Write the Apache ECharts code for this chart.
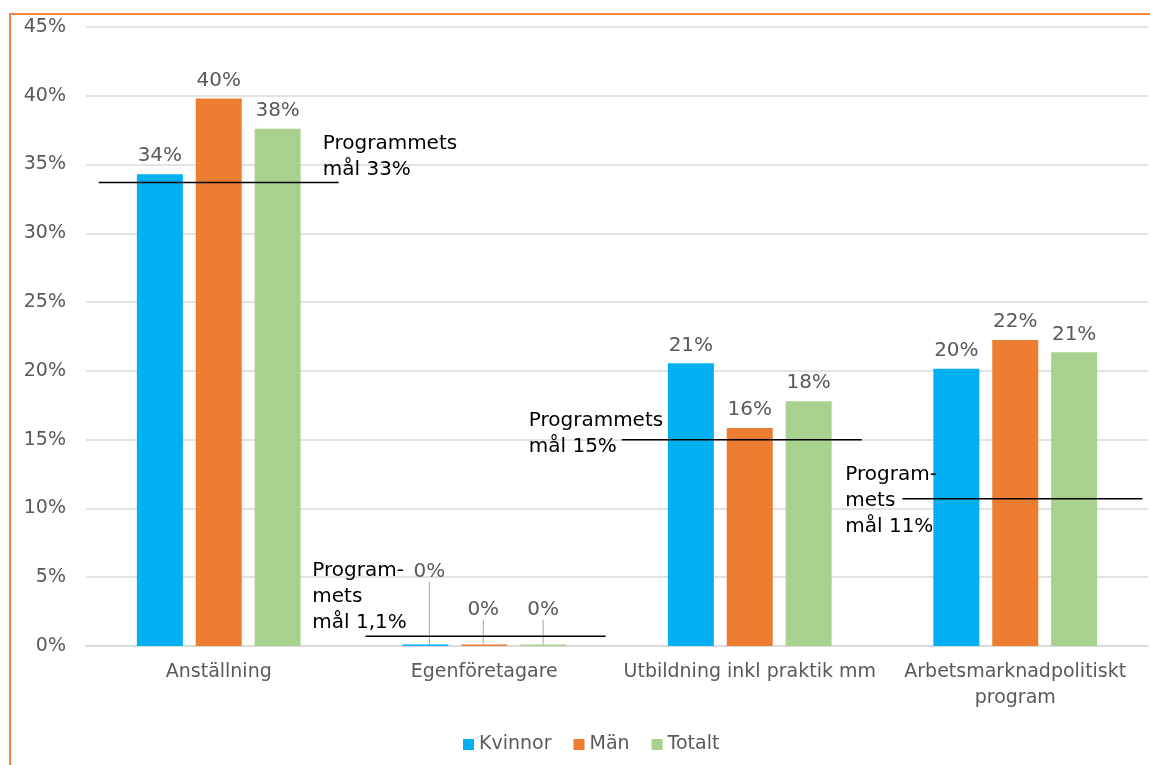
<!DOCTYPE html>
<html>
<head>
<meta charset="utf-8">
<script src="https://cdn.jsdelivr.net/npm/echarts@6/dist/echarts.min.js"></script>
<style>
  html, body { margin: 0; padding: 0; background: #fff; }
  .frame { position: absolute; left: 9px; top: 13px; width: 1200px; height: 800px;
           border-top: 2px solid #F4873B; border-left: 2px solid #F4873B; }
  #chart { position: absolute; left: 0; top: 0; width: 1150px; height: 765px; }
</style>
</head>
<body>
<div class="frame"></div>
<div id="chart"></div>
<script>
// data
const categories = ['Anställning', 'Egenföretagare', 'Utbildning inkl praktik mm', 'Arbetsmarknadpolitiskt\nprogram']
const kvinnor = [34.3, 0.1, 20.55, 20.15]
const man = [39.8, 0.1, 15.85, 22.25]
const totalt = [37.6, 0.1, 17.8, 21.35]
const goalValues = [33.7, 0.7, 15.0, 10.7]
const goalLabels = ['Programmets\nmål 33%', 'Program-\nmets\nmål 1,1%', 'Programmets\nmål 15%', 'Program-\nmets\nmål 11%']

// layout of the goal lines (fraction of band, px offsets for the texts)
const goalShift = [0, 0.005, -0.03, 0.027]
const goalHalf = 0.452
const goalTextPos = [[104, -26], [-172, -40], [-221, -6], [-170, 2]]

const font = 'DejaVu Sans'
const grey = '#595959'

const myChart = echarts.init(document.getElementById('chart'))

// moved labels for the near-zero bars (Egenföretagare)
const zeroLabelMove = {
  0: { dx: 4, dy: -55 },
  1: { dx: -1, dy: -17 },
  2: { dx: 0, dy: -17 }
}

const barSeries = (name, values, color, idx) => ({
  name,
  type: 'bar',
  barWidth: 46,
  barGap: '28%',
  itemStyle: { color },
  z: 2,
  label: {
    show: true,
    position: 'top',
    distance: 8,
    color: grey,
    fontFamily: font,
    fontSize: 20,
    formatter: p => Math.round(p.value) + '%'
  },
  labelLayout: params => params.dataIndex === 1 ? zeroLabelMove[idx] : {},
  labelLine: { show: false },
  data: values.map((v, i) => i === 1
    ? { value: v, labelLine: { show: true, lineStyle: { color: '#A6A6A6', width: 1 } } }
    : v)
})

const option = {
  animation: false,
  color: ['#00B0F0', '#ED7D31', '#A9D18E'],
  grid: { left: 86, right: 2, top: 27, bottom: 119 },
  legend: {
    data: ['Kvinnor', 'Män', 'Totalt'],
    bottom: 6,
    left: 458,
    itemWidth: 11,
    itemHeight: 11,
    itemGap: 22,
    icon: 'rect',
    textStyle: { color: grey, fontFamily: font, fontSize: 19, padding: [0, 0, 0, 0] }
  },
  xAxis: {
    type: 'category',
    data: categories,
    axisTick: { show: false },
    axisLine: { lineStyle: { color: '#D9D9D9', width: 1.5 } },
    axisLabel: {
      color: grey,
      fontFamily: font,
      fontSize: 19,
      lineHeight: 26,
      margin: 13,
      interval: 0
    }
  },
  yAxis: {
    type: 'value',
    min: 0,
    max: 45,
    interval: 5,
    axisLine: { show: false },
    axisTick: { show: false },
    splitLine: { lineStyle: { color: '#D9D9D9', width: 1.5 } },
    axisLabel: {
      color: grey,
      fontFamily: font,
      fontSize: 19,
      margin: 20,
      formatter: '{value}%'
    }
  },
  series: [
    barSeries('Kvinnor', kvinnor, '#00B0F0', 0),
    barSeries('Män', man, '#ED7D31', 1),
    barSeries('Totalt', totalt, '#A9D18E', 2),
    {
      name: 'goal',
      type: 'custom',
      z: 5,
      silent: true,
      data: goalValues.map((v, i) => [i, v]),
      renderItem: (params, api) => {
        const i = api.value(0)
        const p = api.coord([i, api.value(1)])
        const bw = api.size([1, 0])[0]
        const x1 = p[0] + (goalShift[i] - goalHalf) * bw
        const x2 = p[0] + (goalShift[i] + goalHalf) * bw
        return {
          type: 'group',
          children: [
            {
              type: 'line',
              shape: { x1, y1: p[1], x2, y2: p[1] },
              style: { stroke: '#000', lineWidth: 1.5 }
            },
            {
              type: 'text',
              style: {
                text: goalLabels[i],
                x: p[0] + goalTextPos[i][0],
                y: p[1] + goalTextPos[i][1],
                fill: '#000',
                font: '20px "DejaVu Sans"',
                lineHeight: 26,
                align: 'left',
                verticalAlign: 'middle'
              }
            }
          ]
        }
      }
    }
  ]
}

myChart.setOption(option)
</script>
</body>
</html>
